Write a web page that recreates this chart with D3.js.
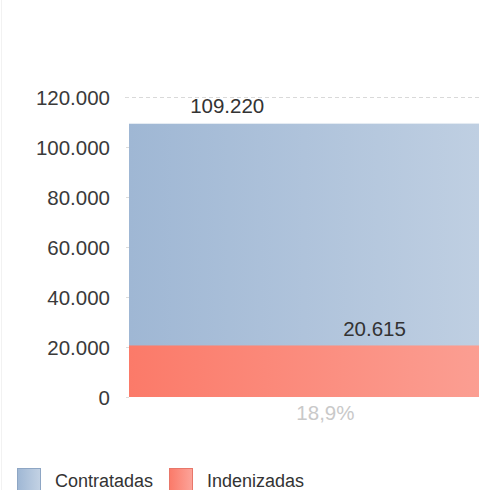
<!DOCTYPE html>
<html><head><meta charset="utf-8">
<script src="https://cdn.jsdelivr.net/npm/d3@7"></script>
<style>body{margin:0;background:#fff;}svg{display:block;}</style>
</head><body>
<svg id="c" width="479" height="490"></svg>
<script>
const categories = ["Total"];
const contratadas = [109220];
const indenizadas = [20615];
const percentLabels = ["18,9%"];
const yTicks = [0, 20000, 40000, 60000, 80000, 100000, 120000];
const tickLabels = ["0", "20.000", "40.000", "60.000", "80.000", "100.000", "120.000"];
const seriesNames = ["Contratadas", "Indenizadas"];
const valueLabels = ["109.220", "20.615"];

const svg = d3.select("#c");
const font = "'Liberation Sans', Arial, sans-serif";

const defs = svg.append("defs");
function grad(id, c0, c1) {
  const g = defs.append("linearGradient").attr("id", id).attr("gradientUnits", "userSpaceOnUse")
    .attr("x1", 129).attr("x2", 479).attr("y1", 0).attr("y2", 0);
  g.append("stop").attr("offset", 0).attr("stop-color", c0);
  g.append("stop").attr("offset", 1).attr("stop-color", c1);
}
grad("gBlue", "#9fb7d4", "#bfcfe2");
grad("gRed", "#fb7a69", "#fb9e92");
const lg = defs.append("linearGradient").attr("id", "lBlue");
lg.append("stop").attr("offset", 0).attr("stop-color", "#9fb7d4");
lg.append("stop").attr("offset", 1).attr("stop-color", "#c3d2e4");
const lr = defs.append("linearGradient").attr("id", "lRed");
lr.append("stop").attr("offset", 0).attr("stop-color", "#fb7a69");
lr.append("stop").attr("offset", 1).attr("stop-color", "#fca49a");

// faint left border
svg.append("line").attr("x1", 1.5).attr("x2", 1.5).attr("y1", 0).attr("y2", 490)
  .attr("stroke", "#f2f2f2").attr("stroke-width", 1);

const y = d3.scaleLinear().domain([0, 120000]).range([397, 97]);
const x = d3.scaleBand().domain(categories).range([129, 620]).padding(0);

// grid at top
svg.append("line").attr("x1", 125).attr("x2", 479).attr("y1", y(120000) + 0.5).attr("y2", y(120000) + 0.5)
  .attr("stroke", "#d9d9d9").attr("stroke-dasharray", "4,3");

// axis
const axis = d3.axisLeft(y).tickValues(yTicks).tickSize(3).tickPadding(16)
  .tickFormat((d, i) => tickLabels[i]);
const ag = svg.append("g").attr("transform", "translate(129,0)").call(axis);
ag.select(".domain").remove();
ag.selectAll(".tick line").attr("stroke", "#dcdcdc");
ag.selectAll(".tick text").attr("font-family", font).attr("font-size", 20.5)
  .attr("fill", "#3a3a3a").attr("dy", "0.36em");

// bars
const cat = categories[0];
svg.append("rect").attr("x", x(cat)).attr("width", x.bandwidth())
  .attr("y", y(contratadas[0])).attr("height", y(0) - y(contratadas[0]))
  .attr("fill", "url(#gBlue)");
svg.append("line").attr("x1", x(cat)).attr("x2", 479)
  .attr("y1", y(contratadas[0]) - 0.5).attr("y2", y(contratadas[0]) - 0.5)
  .attr("stroke", "#e3eaf2");
svg.append("rect").attr("x", x(cat)).attr("width", x.bandwidth())
  .attr("y", y(indenizadas[0])).attr("height", y(0) - y(indenizadas[0]))
  .attr("fill", "url(#gRed)");

// value labels
svg.append("text").attr("x", x(cat) + x.bandwidth() * 0.2).attr("y", y(contratadas[0]) - 11)
  .attr("text-anchor", "middle").attr("font-family", font).attr("font-size", 20.5)
  .attr("fill", "#333").text(valueLabels[0]);
svg.append("text").attr("x", x(cat) + x.bandwidth() * 0.5).attr("y", y(indenizadas[0]) - 9)
  .attr("text-anchor", "middle").attr("font-family", font).attr("font-size", 20.5)
  .attr("fill", "#333").text(valueLabels[1]);
svg.append("text").attr("x", x(cat) + x.bandwidth() * 0.4).attr("y", y(0) + 23)
  .attr("text-anchor", "middle").attr("font-family", font).attr("font-size", 20.5)
  .attr("fill", "#c9c9c9").text(percentLabels[0]);

// legend
const legend = [
  {name: seriesNames[0], fill: "url(#lBlue)", stroke: "#8ea6c4", x: 17},
  {name: seriesNames[1], fill: "url(#lRed)", stroke: "#e8776a", x: 169}
];
const lgG = svg.append("g");
legend.forEach(d => {
  lgG.append("rect").attr("x", d.x + 0.5).attr("y", 468.5).attr("width", 23).attr("height", 23)
    .attr("fill", d.fill).attr("stroke", d.stroke).attr("stroke-width", 1);
  lgG.append("text").attr("x", d.x + 38).attr("y", 487).attr("font-family", font)
    .attr("font-size", 18).attr("fill", "#333").text(d.name);
});
</script>
</body></html>
